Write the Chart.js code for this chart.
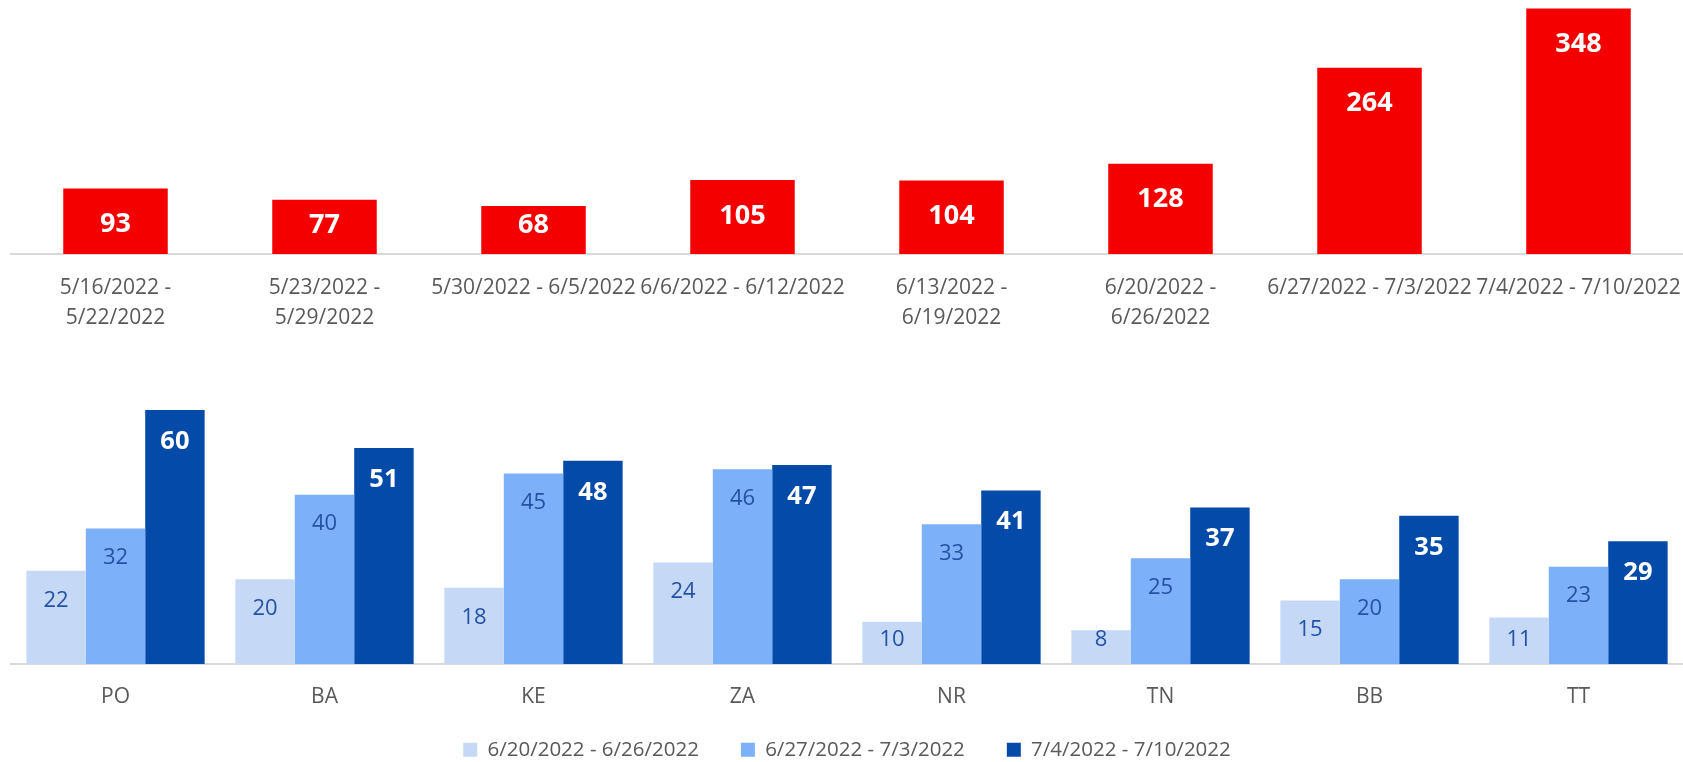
<!DOCTYPE html>
<html>
<head>
<meta charset="utf-8">
<script src="https://cdn.jsdelivr.net/npm/chart.js"></script>
<style>
  html, body { margin: 0; padding: 0; background: #fff; overflow: hidden; }
  #wrap { position: relative; width: 1683px; height: 762px; }
  canvas { position: absolute; left: 0; }
  #weekly { top: 0; }
  #regions { top: 340px; }
</style>
</head>
<body>
<div id="wrap">
  <canvas id="weekly" width="1683" height="340"></canvas>
  <canvas id="regions" width="1683" height="430"></canvas>
</div>
<script>
const weekLabels = [
  ["5/16/2022 -", "5/22/2022"],
  ["5/23/2022 -", "5/29/2022"],
  "5/30/2022 - 6/5/2022",
  "6/6/2022 - 6/12/2022",
  ["6/13/2022 -", "6/19/2022"],
  ["6/20/2022 -", "6/26/2022"],
  "6/27/2022 - 7/3/2022",
  "7/4/2022 - 7/10/2022"
];
const weekCounts = [93, 77, 68, 105, 104, 128, 264, 348];

const regionLabels = ["PO", "BA", "KE", "ZA", "NR", "TN", "BB", "TT"];
const seriesNames = ["6/20/2022 - 6/26/2022", "6/27/2022 - 7/3/2022", "7/4/2022 - 7/10/2022"];
const week1 = [22, 20, 18, 24, 10, 8, 15, 11];
const week2 = [32, 40, 45, 46, 33, 25, 20, 23];
const week3 = [60, 51, 48, 47, 41, 37, 35, 29];

Chart.defaults.font.family = "'Open Sans', sans-serif";
Chart.defaults.animation = false;

// value inside the end of every bar, pushed up off the axis when the bar is short
const valueLabels = {
  id: 'valueLabels',
  afterDatasetsDraw(chart, args, opts) {
    const ctx = chart.ctx;
    chart.data.datasets.forEach((ds, i) => {
      const st = opts.styles[i];
      const meta = chart.getDatasetMeta(i);
      ctx.save();
      ctx.font = st.font;
      ctx.fillStyle = st.color;
      ctx.textAlign = 'center';
      ctx.textBaseline = 'middle';
      meta.data.forEach((bar, j) => {
        let y = Math.min(bar.y + st.offset, bar.base - st.floor);
        ctx.fillText(ds.data[j], bar.x, y);
      });
      ctx.restore();
    });
  }
};

// tick labels are clipped to the axis box, let them hang below it
const tallAxis = {
  id: 'tallAxis',
  afterLayout(chart) {
    const x = chart.scales.x;
    x.bottom = x.top + 70;
  }
};

const tickFont = {size: 21, lineHeight: 30 / 21};

const xAxis = (h, pad) => ({
  grid: {display: false, drawTicks: false},
  border: {display: true, color: '#d9d9d9', width: 2},
  ticks: {color: '#595959', font: tickFont, padding: pad, autoSkip: false, maxRotation: 0, minRotation: 0},
  afterFit: (scale) => {
    scale.height = h;
    // long labels may spill past the edge, like the original
    scale.paddingLeft = 0;
    scale.paddingRight = 0;
  }
});

new Chart(document.getElementById('weekly'), {
  type: 'bar',
  data: {
    labels: weekLabels,
    datasets: [{
      data: weekCounts,
      backgroundColor: '#f50000',
      categoryPercentage: 1,
      barPercentage: 0.5
    }]
  },
  options: {
    responsive: false,
    devicePixelRatio: 1,
    layout: {padding: {left: 11, right: 0, top: 0, bottom: 0}},
    scales: {
      x: xAxis(86, 19),
      y: {display: false, min: 0, max: 360}
    },
    plugins: {
      legend: {display: false},
      tooltip: {enabled: false},
      valueLabels: {styles: [{font: "bold 27px 'Open Sans'", color: '#ffffff', offset: 36, floor: 29}]}
    }
  },
  plugins: [valueLabels, tallAxis]
});

new Chart(document.getElementById('regions'), {
  type: 'bar',
  data: {
    labels: regionLabels,
    datasets: [
      {label: seriesNames[0], data: week1, backgroundColor: '#c5d9f7'},
      {label: seriesNames[1], data: week2, backgroundColor: '#7cb1fa'},
      {label: seriesNames[2], data: week3, backgroundColor: '#044aa8'}
    ]
  },
  options: {
    responsive: false,
    devicePixelRatio: 1,
    layout: {padding: {left: 11, right: 0, top: 0, bottom: 0}},
    datasets: {bar: {categoryPercentage: 0.853, barPercentage: 1}},
    scales: {
      // 430 canvas - 324 plot - legend (20.5 + 42 + 10)
      x: xAxis(33.5, 18),
      y: {display: false, min: 0, max: 76.54}
    },
    plugins: {
      legend: {
        position: 'bottom',
        labels: {color: '#595959', font: {size: 20.5}, boxWidth: 14, boxHeight: 14, padding: 42}
      },
      tooltip: {enabled: false},
      valueLabels: {styles: [
        {font: "22px 'Open Sans'", color: '#2352a5', offset: 29.5, floor: 24},
        {font: "22px 'Open Sans'", color: '#2352a5', offset: 29.5, floor: 24},
        {font: "bold 25.5px 'Open Sans'", color: '#ffffff', offset: 31.5, floor: 30}
      ]}
    }
  },
  plugins: [valueLabels, tallAxis]
});
</script>
</body>
</html>
